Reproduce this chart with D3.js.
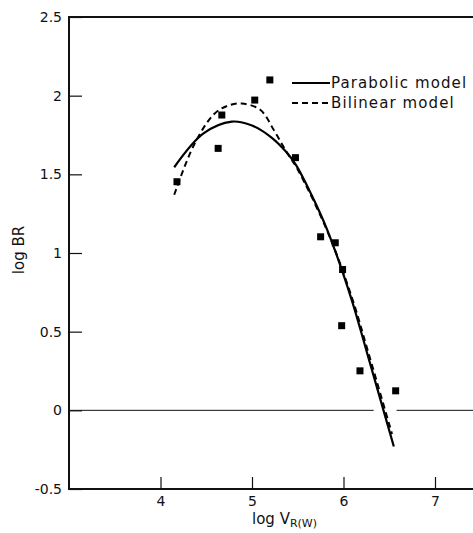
<!DOCTYPE html>
<html>
<head>
<meta charset="utf-8">
<script src="https://cdn.jsdelivr.net/npm/d3@7"></script>
<style>
  body { margin: 0; background: #fff; }
  text { font-family: "DejaVu Sans", sans-serif; fill: #111; }
</style>
</head>
<body>
<div id="container"></div>
<script>
// observed points (log V, log BR)
var obsX = [4.18, 4.63, 4.67, 5.03, 5.195, 5.475, 5.75, 5.91, 5.99, 5.98, 6.18, 6.57];
var obsY = [1.453, 1.665, 1.877, 1.972, 2.10, 1.606, 1.103, 1.065, 0.895, 0.538, 0.251, 0.124];

// parabolic model
var paraX = [4.15, 4.47, 4.78, 5.0, 5.2, 5.37, 5.48, 5.65, 5.82, 6.08, 6.26, 6.55];
var paraY = [1.545, 1.76, 1.835, 1.81, 1.74, 1.645, 1.56, 1.37, 1.15, 0.72, 0.36, -0.23];

// bilinear model
var biX = [4.15, 4.36, 4.58, 4.73, 4.89, 5.09, 5.24, 5.37, 5.5, 5.83, 6.09, 6.27, 6.53];
var biY = [1.37, 1.68, 1.88, 1.935, 1.95, 1.91, 1.78, 1.65, 1.53, 1.13, 0.72, 0.37, -0.15];

var xTicks = [4, 5, 6, 7];
var yTicks = [-0.5, 0, 0.5, 1, 1.5, 2, 2.5];
var yTickLabels = ['-0.5', '0', '0.5', '1', '1.5', '2', '2.5'];

var width = 473, height = 533;
var plotLeft = 69, plotTop = 17, plotBottom = 489;

var x = d3.scaleLinear().domain([3, 7.5]).range([plotLeft, plotLeft + 4.5 * 91.5]);
var y = d3.scaleLinear().domain([-0.5, 2.5]).range([plotBottom, plotTop]);

var svg = d3.select('#container').append('svg')
    .attr('width', width)
    .attr('height', height);

// y axis: inward ticks
var yAxis = svg.append('g')
    .attr('transform', 'translate(' + plotLeft + ',0)')
    .call(d3.axisLeft(y)
        .tickValues(yTicks)
        .tickSizeInner(-13)
        .tickSizeOuter(0)
        .tickPadding(7)
        .tickFormat(function (d, i) { return yTickLabels[i]; }));
yAxis.select('.domain').remove();
yAxis.selectAll('line').attr('stroke', '#111').attr('stroke-width', 1.2);
yAxis.selectAll('text').style('font-size', '14px').attr('fill', '#111');

// x axis: inward ticks
var xAxis = svg.append('g')
    .attr('transform', 'translate(0,' + plotBottom + ')')
    .call(d3.axisBottom(x)
        .tickValues(xTicks)
        .tickSizeInner(-12)
        .tickSizeOuter(0)
        .tickPadding(7)
        .tickFormat(d3.format('d')));
xAxis.select('.domain').remove();
xAxis.selectAll('line').attr('stroke', '#111').attr('stroke-width', 1.2);
xAxis.selectAll('text').style('font-size', '14px').attr('fill', '#111');

// frame
var frame = svg.append('g').attr('stroke', '#111').attr('stroke-width', 2).attr('fill', 'none');
frame.append('line').attr('x1', plotLeft).attr('x2', plotLeft).attr('y1', plotTop - 1).attr('y2', plotBottom + 1);
frame.append('line').attr('x1', plotLeft).attr('x2', width).attr('y1', plotTop).attr('y2', plotTop);
frame.append('line').attr('x1', plotLeft).attr('x2', width).attr('y1', plotBottom).attr('y2', plotBottom);

// zero line with a gap where the curves cross it
svg.append('line')
    .attr('x1', x(3)).attr('x2', x(6.33))
    .attr('y1', y(0)).attr('y2', y(0))
    .attr('stroke', '#111').attr('stroke-width', 1);
svg.append('line')
    .attr('x1', x(6.58)).attr('x2', width)
    .attr('y1', y(0)).attr('y2', y(0))
    .attr('stroke', '#111').attr('stroke-width', 1);

var line = d3.line()
    .x(function (d) { return x(d[0]); })
    .y(function (d) { return y(d[1]); })
    .curve(d3.curveCatmullRom.alpha(0.5));

svg.append('path')
    .datum(d3.zip(paraX, paraY))
    .attr('d', line)
    .attr('fill', 'none')
    .attr('stroke', '#000')
    .attr('stroke-width', 2.2);

svg.append('path')
    .datum(d3.zip(biX, biY))
    .attr('d', line)
    .attr('fill', 'none')
    .attr('stroke', '#000')
    .attr('stroke-width', 2)
    .attr('stroke-dasharray', '6,4');

// observed points
var sq = 7;
svg.selectAll('rect.obs')
    .data(d3.zip(obsX, obsY))
    .enter().append('rect')
    .attr('class', 'obs')
    .attr('x', function (d) { return x(d[0]) - sq / 2; })
    .attr('y', function (d) { return y(d[1]) - sq / 2; })
    .attr('width', sq)
    .attr('height', sq)
    .attr('fill', '#000');

// legend
var legend = svg.append('g');
legend.append('line')
    .attr('x1', 292).attr('x2', 330).attr('y1', 83).attr('y2', 83)
    .attr('stroke', '#000').attr('stroke-width', 2);
legend.append('line')
    .attr('x1', 292).attr('x2', 330).attr('y1', 103).attr('y2', 103)
    .attr('stroke', '#000').attr('stroke-width', 2)
    .attr('stroke-dasharray', '6,4');
legend.append('text')
    .attr('x', 331).attr('y', 88)
    .style('font-size', '15px').style('letter-spacing', '1.1px')
    .text('Parabolic model');
legend.append('text')
    .attr('x', 331).attr('y', 108)
    .style('font-size', '15px').style('letter-spacing', '1.1px')
    .text('Bilinear model');

// axis titles
svg.append('text')
    .attr('transform', 'translate(24,250) rotate(-90)')
    .attr('text-anchor', 'middle')
    .style('font-size', '15px')
    .text('log BR');

var xt = svg.append('text')
    .attr('x', 252).attr('y', 524)
    .style('font-size', '15px');
xt.append('tspan').text('log V');
xt.append('tspan').attr('dy', 3).style('font-size', '11px').text('R(W)');
</script>
</body>
</html>
